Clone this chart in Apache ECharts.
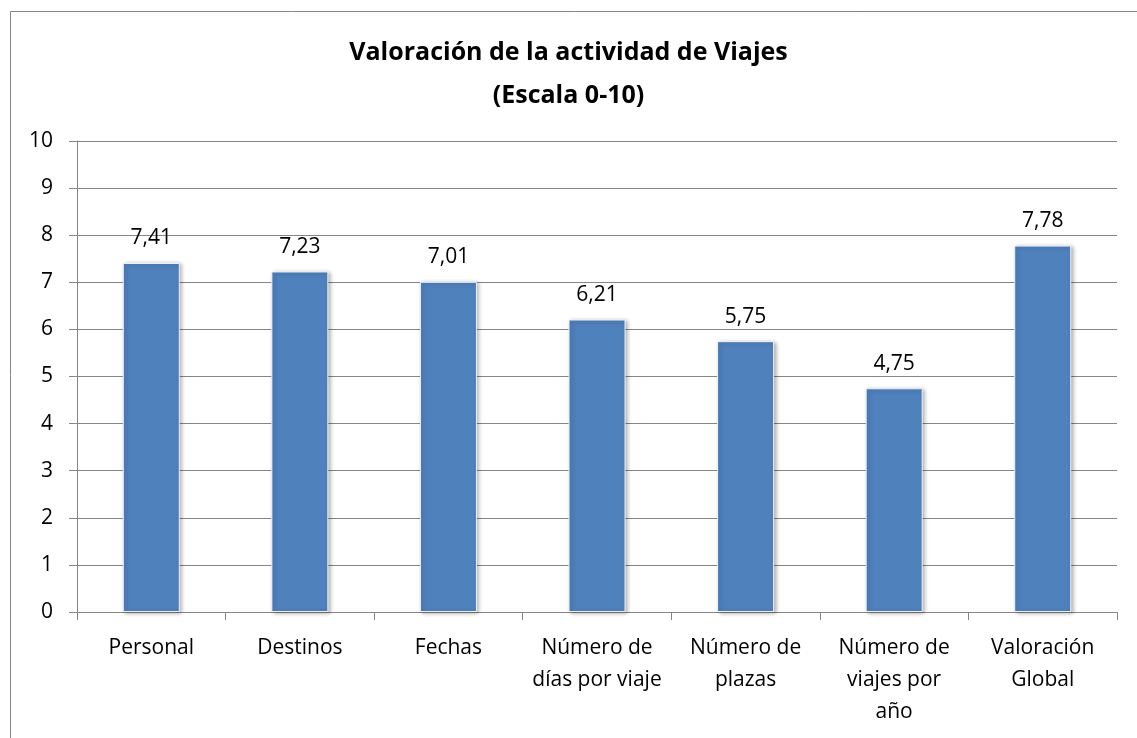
<!DOCTYPE html>
<html lang="es">
<head>
  <meta charset="UTF-8">
  <title>Valoración de la actividad de Viajes</title>
  <style>
    html, body, #chart {
      margin: 0;
      padding: 0;
      width: 100%;
      height: 100%;
      background: #fff;
    }
  </style>
</head>
<body>
<div id="chart"></div>

<script src="https://cdn.jsdelivr.net/npm/echarts@6/dist/echarts.min.js"></script>
<script>
  var categories = ['Personal', 'Destinos', 'Fechas', 'Número de\ndías por viaje', 'Número de\nplazas', 'Número de\nviajes por\naño', 'Valoración\nGlobal'];
  var values = [7.41, 7.23, 7.01, 6.21, 5.75, 4.75, 7.78];
  var yTicks = [0, 10, 1]; // min, max, interval

  var font = '"Open Sans", Lato, sans-serif';
  var gray = '#868686';

  var chart = echarts.init(document.getElementById('chart'));

  chart.setOption({
    animation: false,
    title: {
      text: 'Valoración de la actividad de Viajes\n(Escala 0-10)',
      left: 'center',
      top: 26,
      textStyle: {
        fontFamily: font,
        fontSize: 25,
        fontWeight: 'bold',
        color: '#000',
        lineHeight: 43
      }
    },
    graphic: [{
      type: 'rect',
      left: 8,
      top: 9,
      shape: { width: 1160, height: 760 },
      style: { fill: 'none', stroke: gray, lineWidth: 1 },
      silent: true
    }],
    grid: {
      left: 77,
      right: 20,
      top: 141,
      bottom: 126
    },
    xAxis: {
      type: 'category',
      data: categories,
      axisLine: { lineStyle: { color: gray, width: 1 } },
      axisTick: { show: true, length: 8, lineStyle: { color: gray } },
      axisLabel: {
        color: '#000',
        fontFamily: font,
        fontSize: 21,
        lineHeight: 32,
        margin: 20,
        interval: 0
      }
    },
    yAxis: {
      type: 'value',
      min: yTicks[0],
      max: yTicks[1],
      interval: yTicks[2],
      axisLine: { show: true, lineStyle: { color: gray, width: 1 } },
      axisTick: { show: true, length: 8, lineStyle: { color: gray } },
      splitLine: { lineStyle: { color: gray, width: 1 } },
      axisLabel: {
        color: '#000',
        fontFamily: font,
        fontSize: 21,
        margin: 24
      }
    },
    series: [{
      type: 'bar',
      data: values,
      barWidth: 57,
      itemStyle: {
        color: '#4F81BD',
        borderColor: '#eef2f7',
        borderWidth: 1,
        shadowColor: 'rgba(0,0,0,0.3)',
        shadowBlur: 4,
        shadowOffsetX: 2,
        shadowOffsetY: 1
      },
      label: {
        show: true,
        position: 'top',
        distance: 14,
        color: '#000',
        fontFamily: font,
        fontSize: 21,
        formatter: function (p) {
          return p.value.toFixed(2).replace('.', ',');
        }
      }
    }]
  });
</script>
</body>
</html>
